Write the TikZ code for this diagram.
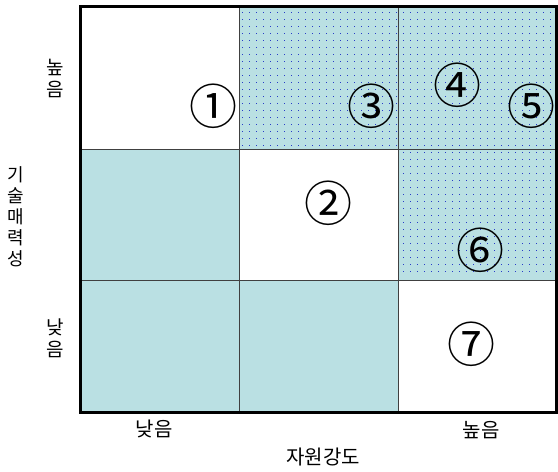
\documentclass[tikz,border=0pt]{standalone}
\usepackage{fontspec}
\setmainfont{Noto Sans CJK KR}
\usepackage{tikz}
\definecolor{cellteal}{RGB}{186,224,227}
\definecolor{dotblue}{RGB}{40,60,200}
\definecolor{gridgray}{gray}{0.25}

\begin{document}
\begin{tikzpicture}[x=1pt,y=-1pt,
  grid/.style={draw=gridgray,line width=1pt},
  frame/.style={draw=black,line width=3pt},
  num/.style={font=\fontsize{48}{48}\selectfont,inner sep=0pt},
  lbl/.style={font=\fontsize{20}{20}\selectfont,inner sep=0pt},
  vlbl/.style={font=\fontsize{19}{22}\selectfont,align=center,inner sep=0pt},
]
\useasboundingbox (0,0) rectangle (558,472);
\def\xa{80}\def\xb{239}\def\xc{398}\def\xd{556}
\def\ya{6}\def\yb{149}\def\yc{280}\def\yd{412}
% shaded cells
\fill[cellteal] (\xb,\ya) rectangle (\xd,\yb);
\fill[cellteal] (\xc,\yb) rectangle (\xd,\yc);
\fill[cellteal] (\xa,\yb) rectangle (\xb,\yd);
\fill[cellteal] (\xb,\yc) rectangle (\xc,\yd);
% dot screen
\foreach \i in {0,...,44}
  \foreach \j in {0,...,19}
    \fill[dotblue] ({242+7*\i},{12+7*\j}) rectangle +(1.3,1.3);
\foreach \i in {23,...,44}
  \foreach \j in {20,...,37}
    \fill[dotblue] ({242+7*\i},{12+7*\j}) rectangle +(1.3,1.3);
% grid and frame
\draw[grid] (\xb,\ya) -- (\xb,\yd);
\draw[grid] (\xc,\ya) -- (\xc,\yd);
\draw[grid] (\xa,\yb) -- (\xd,\yb);
\draw[grid] (\xa,\yc) -- (\xd,\yc);
\draw[frame] (\xa,\ya) rectangle (\xd,\yd);
% circled numbers
\node[num] (n1) at (213,106) {①};
\node[num] (n2) at (328,203) {②};
\node[num] (n3) at (371,106) {③};
\node[num] (n4) at (457,85) {④};
\node[num] (n5) at (531,106) {⑤};
\node[num] (n6) at (480,250) {⑥};
\node[num] (n7) at (471,344) {⑦};
% axis labels
\node[vlbl] (yhigh) at (55,78) {높\\음};
\node[vlbl] (ylow) at (55,338) {낮\\음};
\node[lbl] (xlow) at (154,429) {낮음};
\node[lbl] (xhigh) at (481,430) {높음};
\node[lbl] (xname) at (323,457) {자원강도};
\node[font=\fontsize{18}{21}\selectfont,align=center,inner sep=0pt] (yname) at (16,217) {기\\술\\매\\력\\성};
\end{tikzpicture}
\end{document}
